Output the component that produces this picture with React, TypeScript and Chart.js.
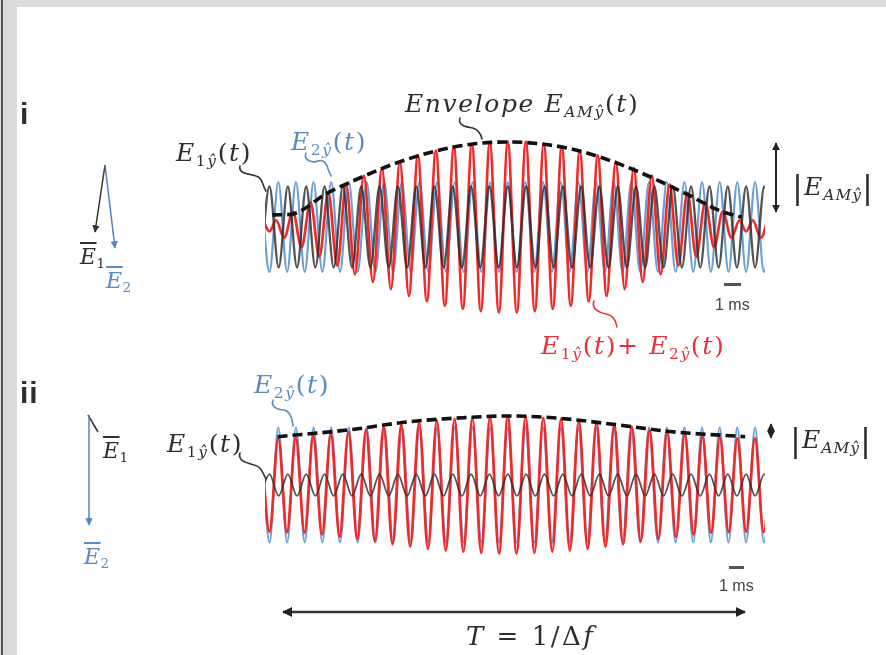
import React, { useEffect, useRef } from "react";
import { Chart, registerables } from "chart.js";

Chart.register(...registerables);

// ---------- DATA (time in ms, field in arbitrary units) ----------
// extremum times of E1 (slower carrier) and E2 (faster carrier)
const T_E1 = [-0.25, 0.25, 0.76, 1.27, 1.78, 2.29, 2.80, 3.31, 3.82, 4.33, 4.84, 5.35, 5.86, 6.37, 6.88, 7.39, 7.90, 8.41, 8.92, 9.42, 9.93, 10.44, 10.95, 11.46, 11.97, 12.48, 12.99, 13.50, 14.01, 14.52, 15.03, 15.54, 16.05, 16.56, 17.07, 17.58, 18.08, 18.59, 19.10, 19.61, 20.12, 20.63, 21.14, 21.65, 22.16, 22.67, 23.18, 23.69, 24.20, 24.71, 25.22, 25.73, 26.24, 26.75, 27.25, 27.76, 28.27];
const T_E2 = [-0.25, 0.25, 0.74, 1.23, 1.72, 2.21, 2.70, 3.19, 3.68, 4.17, 4.66, 5.15, 5.65, 6.14, 6.63, 7.12, 7.61, 8.10, 8.59, 9.08, 9.57, 10.06, 10.55, 11.05, 11.54, 12.03, 12.52, 13.01, 13.50, 13.99, 14.48, 14.97, 15.46, 15.95, 16.45, 16.94, 17.43, 17.92, 18.41, 18.90, 19.39, 19.88, 20.37, 20.86, 21.35, 21.85, 22.34, 22.83, 23.32, 23.81, 24.30, 24.79, 25.28, 25.77, 26.26, 26.75, 27.25, 27.74, 28.23];

// panel i : E1 (black), E2 (blue), sum (red), envelope (dashed)
const V_E1_I = [-0.9, 0.9, -0.9, 0.9, -0.9, 0.9, -0.9, 0.9, -0.9, 0.9, -0.9, 0.9, -0.9, 0.9, -0.9, 0.9, -0.9, 0.9, -0.9, 0.9, -0.9, 0.9, -0.9, 0.9, -0.9, 0.9, -0.9, 0.9, -0.9, 0.9, -0.9, 0.9, -0.9, 0.9, -0.9, 0.9, -0.9, 0.9, -0.9, 0.9, -0.9, 0.9, -0.9, 0.9, -0.9, 0.9, -0.9, 0.9, -0.9, 0.9, -0.9, 0.9, -0.9, 0.9, -0.9, 0.9, -0.9];
const V_E2_I = [1, -1, 1, -1, 1, -1, 1, -1, 1, -1, 1, -1, 1, -1, 1, -1, 1, -1, 1, -1, 1, -1, 1, -1, 1, -1, 1, -1, 1, -1, 1, -1, 1, -1, 1, -1, 1, -1, 1, -1, 1, -1, 1, -1, 1, -1, 1, -1, 1, -1, 1, -1, 1, -1, 1, -1, 1, -1, 1];
const T_SUM_I = [-0.12, 0.25, 0.62, 1.07, 1.55, 2.03, 2.53, 3.02, 3.52, 4.02, 4.51, 5.0, 5.5, 6.0, 6.5, 7.0, 7.5, 8.0, 8.5, 9.0, 9.5, 10.0, 10.5, 11.0, 11.5, 12.0, 12.5, 13.0, 13.5, 14.0, 14.5, 15.0, 15.5, 16.0, 16.5, 17.0, 17.5, 18.0, 18.5, 19.0, 19.5, 20.0, 20.5, 21.0, 21.5, 22.0, 22.49, 22.98, 23.48, 23.98, 24.47, 24.97, 25.45, 25.93, 26.38, 26.75, 27.12, 27.57, 28.05];
const V_SUM_I = [0.15, -0.10, 0.15, -0.24, 0.34, -0.45, 0.55, -0.66, 0.76, -0.86, 0.95, -1.05, 1.14, -1.22, 1.31, -1.38, 1.46, -1.53, 1.59, -1.65, 1.70, -1.75, 1.79, -1.82, 1.85, -1.87, 1.89, -1.90, 1.90, -1.90, 1.89, -1.87, 1.85, -1.82, 1.79, -1.75, 1.70, -1.65, 1.59, -1.53, 1.46, -1.38, 1.31, -1.22, 1.14, -1.05, 0.95, -0.86, 0.76, -0.66, 0.55, -0.45, 0.34, -0.24, 0.15, -0.10, 0.15, -0.24, 0.34];
const T_ENV_I = [0.4, 1.4, 3.5, 5.5, 7.5, 9.5, 11.5, 13.5, 15.5, 17.5, 19.5, 21.5, 23.5, 25.3, 26.5];
const V_ENV_I = [0.27, 0.28, 0.76, 1.13, 1.45, 1.69, 1.84, 1.89, 1.84, 1.69, 1.43, 1.10, 0.72, 0.36, 0.22];

// panel ii
const V_E1_II = [-0.19, 0.19, -0.19, 0.19, -0.19, 0.19, -0.19, 0.19, -0.19, 0.19, -0.19, 0.19, -0.19, 0.19, -0.19, 0.19, -0.19, 0.19, -0.19, 0.19, -0.19, 0.19, -0.19, 0.19, -0.19, 0.19, -0.19, 0.19, -0.19, 0.19, -0.19, 0.19, -0.19, 0.19, -0.19, 0.19, -0.19, 0.19, -0.19, 0.19, -0.19, 0.19, -0.19, 0.19, -0.19, 0.19, -0.19, 0.19, -0.19, 0.19, -0.19, 0.19, -0.19, 0.19, -0.19, 0.19, -0.19];
const V_E2_II = [1, -1, 1, -1, 1, -1, 1, -1, 1, -1, 1, -1, 1, -1, 1, -1, 1, -1, 1, -1, 1, -1, 1, -1, 1, -1, 1, -1, 1, -1, 1, -1, 1, -1, 1, -1, 1, -1, 1, -1, 1, -1, 1, -1, 1, -1, 1, -1, 1, -1, 1, -1, 1, -1, 1, -1, 1, -1, 1];
const T_SUM_II = [-0.24, 0.25, 0.74, 1.22, 1.71, 2.20, 2.68, 3.17, 3.66, 4.15, 4.64, 5.13, 5.62, 6.11, 6.60, 7.09, 7.58, 8.07, 8.57, 9.06, 9.55, 10.05, 10.54, 11.03, 11.53, 12.02, 12.51, 13.01, 13.50, 13.99, 14.49, 14.98, 15.47, 15.97, 16.46, 16.95, 17.45, 17.94, 18.43, 18.93, 19.42, 19.91, 20.40, 20.89, 21.38, 21.87, 22.36, 22.85, 23.34, 23.83, 24.32, 24.80, 25.29, 25.78, 26.26, 26.75, 27.24, 27.72, 28.21];
const V_SUM_II = [0.81, -0.81, 0.81, -0.82, 0.82, -0.83, 0.85, -0.86, 0.88, -0.90, 0.92, -0.94, 0.96, -0.98, 1.01, -1.03, 1.05, -1.07, 1.09, -1.11, 1.12, -1.14, 1.15, -1.16, 1.17, -1.18, 1.19, -1.19, 1.19, -1.19, 1.19, -1.18, 1.17, -1.16, 1.15, -1.14, 1.12, -1.11, 1.09, -1.07, 1.05, -1.03, 1.01, -0.98, 0.96, -0.94, 0.92, -0.90, 0.88, -0.86, 0.85, -0.83, 0.82, -0.82, 0.81, -0.81, 0.81, -0.82, 0.82];
const T_ENV_II = [0.7, 4.7, 8.0, 11.0, 13.5, 16.0, 19.5, 22.5, 26.7];
const V_ENV_II = [0.84, 0.96, 1.10, 1.17, 1.20, 1.17, 1.05, 0.93, 0.84];

const T_MAX = 27.8;

// ---------- styles ----------
const C_BLACK = "rgba(45,45,45,0.82)";
const C_BLUE = "#6c9fd2";
const C_RED = "#f02a2a";
const C_TXT = "#2e2e2e";
const C_TXT_BLUE = "#5b8cbf";
const C_TXT_RED = "#e8303a";
const MATH = '"DejaVu Serif", "Liberation Serif", serif';
const SANS = '"Liberation Sans", Arial, sans-serif';

const pts = (t: number[], v: number[]) => t.map((x, i) => ({ x, y: v[i] }));

type PanelProps = {
  left: number; top: number; width: number; height: number; yLim: number; e1W: number;
  e1: number[]; e2: number[]; tSum: number[]; vSum: number[]; tEnv: number[]; vEnv: number[];
};

function Panel(p: PanelProps) {
  const ref = useRef<HTMLCanvasElement | null>(null);
  useEffect(() => {
    if (!ref.current) return;
    const common = { pointRadius: 0, cubicInterpolationMode: "monotone" as const, fill: false };
    const chart = new Chart(ref.current, {
      type: "line",
      data: {
        datasets: [
          { ...common, label: "envelope", data: pts(p.tEnv, p.vEnv), borderColor: "#111", borderWidth: 3.6, borderDash: [10, 5], order: 0 },
          { ...common, label: "E1", data: pts(T_E1, p.e1), borderColor: C_BLACK, borderWidth: p.e1W, order: 1 },
          { ...common, label: "E1+E2", data: pts(p.tSum, p.vSum), borderColor: C_RED, borderWidth: 2.7, order: 2 },
          { ...common, label: "E2", data: pts(T_E2, p.e2), borderColor: C_BLUE, borderWidth: 2.2, order: 3 },
        ],
      },
      options: {
        animation: false,
        responsive: false,
        devicePixelRatio: 1,
        events: [],
        layout: { padding: 0 },
        plugins: { legend: { display: false }, tooltip: { enabled: false }, title: { display: false } },
        scales: {
          x: { type: "linear", min: 0, max: T_MAX, display: false },
          y: { type: "linear", min: -p.yLim, max: p.yLim, display: false },
        },
      },
    });
    return () => chart.destroy();
  }, []);
  return (
    <canvas ref={ref} width={p.width} height={p.height}
      style={{ position: "absolute", left: p.left, top: p.top, width: p.width, height: p.height }} />
  );
}

const sub: React.CSSProperties = { fontSize: "0.62em", verticalAlign: "-0.32em", lineHeight: 0 };

function Lbl(props: { left: number; top: number; size?: number; color?: string; font?: string; ls?: number; bold?: boolean; children: React.ReactNode }) {
  return (
    <div style={{
      position: "absolute", left: props.left, top: props.top, fontSize: props.size ?? 25,
      color: props.color ?? C_TXT, fontFamily: props.font ?? MATH, lineHeight: 1, whiteSpace: "nowrap",
      letterSpacing: props.ls ?? 1.6, fontWeight: props.bold ? 700 : 400,
    }}>{props.children}</div>
  );
}

const Eyt = (n: string) => (
  <>
    <i>E</i><span style={sub}>{n}<i>ŷ</i></span>(<i>t</i>)
  </>
);
const Eam = (
  <>
    <i>E</i><span style={sub}><i>AMŷ</i></span>
  </>
);
const Ebar = (n: string) => (
  <>
    <i style={{ textDecoration: "overline" }}>E</i><span style={sub}>{n}</span>
  </>
);
const bar = <span style={{ fontSize: "1.3em", verticalAlign: "-0.1em" }}>|</span>;

export default function App() {
  return (
    <div style={{ position: "absolute", left: 0, top: 0, width: 886, height: 655, background: "#fff", overflow: "hidden" }}>
      {/* frame */}
      <div style={{ position: "absolute", left: 0, top: 0, width: 886, height: 7, background: "#dcdcdc" }} />
      <div style={{ position: "absolute", left: 0, top: 0, width: 17, height: 655, background: "#dcdcdc" }} />
      <div style={{ position: "absolute", left: 1, top: 0, width: 1.5, height: 655, background: "#555" }} />

      <Panel left={265} top={119} width={500} height={216} yLim={2.4} e1W={2.3}
        e1={V_E1_I} e2={V_E2_I} tSum={T_SUM_I} vSum={V_SUM_I} tEnv={T_ENV_I} vEnv={V_ENV_I} />
      <Panel left={265} top={393} width={500} height={184} yLim={1.6} e1W={1.8}
        e1={V_E1_II} e2={V_E2_II} tSum={T_SUM_II} vSum={V_SUM_II} tEnv={T_ENV_II} vEnv={V_ENV_II} />

      <svg width={886} height={655} style={{ position: "absolute", left: 0, top: 0, pointerEvents: "none" }}>
        <defs>
          <marker id="ak" viewBox="0 0 10 10" refX="9" refY="5" markerWidth="4" markerHeight="4" orient="auto-start-reverse">
            <path d="M0,0 L10,5 L0,10 z" fill="#222" />
          </marker>
          <marker id="ab" viewBox="0 0 10 10" refX="9" refY="5" markerWidth="5" markerHeight="5" orient="auto-start-reverse">
            <path d="M0,0 L10,5 L0,10 z" fill="#4f86bf" />
          </marker>
          <marker id="ak2" viewBox="0 0 10 10" refX="9" refY="5" markerWidth="5" markerHeight="5" orient="auto-start-reverse">
            <path d="M0,0 L10,5 L0,10 z" fill="#333" />
          </marker>
        </defs>
        {/* vectors panel i */}
        <line x1={105} y1={165} x2={95} y2={232} stroke="#333" strokeWidth={1.5} markerEnd="url(#ak2)" />
        <line x1={105} y1={165} x2={115} y2={248} stroke="#4f86bf" strokeWidth={1.5} markerEnd="url(#ab)" />
        {/* vectors panel ii */}
        <line x1={88} y1={415} x2={98} y2={432} stroke="#333" strokeWidth={1.5} />
        <line x1={89} y1={415} x2={89} y2={525} stroke="#4f86bf" strokeWidth={1.5} markerEnd="url(#ab)" />
        {/* amplitude arrows */}
        <line x1={776} y1={143} x2={776} y2={212} stroke="#222" strokeWidth={2} markerStart="url(#ak)" markerEnd="url(#ak)" />
        <line x1={771} y1={424} x2={771} y2={438} stroke="#222" strokeWidth={2} markerStart="url(#ak)" markerEnd="url(#ak)" />
        {/* scale bars */}
        <rect x={724} y={283} width={17} height={3} fill="#555" />
        <rect x={729} y={566} width={15} height={3} fill="#555" />
        {/* T arrow */}
        <line x1={283} y1={612} x2={745} y2={612} stroke="#333" strokeWidth={2.5} markerStart="url(#ak)" markerEnd="url(#ak)" />
        {/* squiggle leaders */}
        <g fill="none" strokeWidth={1.6} strokeLinecap="round">
          <path d="M 240 166 C 238 174, 250 174, 256 176 C 263 178, 262 185, 266 191" stroke="#333" />
          <path d="M 306 153 C 303 161, 313 163, 318 161 C 324 159, 327 164, 328 169 L 331 176" stroke={C_TXT_BLUE} />
          <path d="M 460 118 C 457 126, 468 127, 473 128 C 479 130, 481 134, 482 139" stroke="#333" />
          <path d="M 594 301 C 591 309, 600 313, 606 314 C 613 315, 616 320, 617 327" stroke={C_TXT_RED} />
          <path d="M 273 400 C 270 408, 280 410, 284 410 C 290 411, 292 417, 293 426" stroke={C_TXT_BLUE} />
          <path d="M 240 453 C 237 461, 248 463, 254 465 C 262 467, 262 472, 266 479" stroke="#333" />
        </g>
      </svg>

      {/* panel labels */}
      <Lbl left={20} top={99} size={30} font={SANS} ls={0} bold>i</Lbl>
      <Lbl left={20} top={378} size={30} font={SANS} ls={1} bold>ii</Lbl>

      {/* panel i texts */}
      <Lbl left={405} top={91}><i>Envelope</i> {Eam}(<i>t</i>)</Lbl>
      <Lbl left={176} top={140}>{Eyt("1")}</Lbl>
      <Lbl left={291} top={129} color={C_TXT_BLUE}>{Eyt("2")}</Lbl>
      <Lbl left={541} top={333} color={C_TXT_RED}>{Eyt("1")}+ {Eyt("2")}</Lbl>
      <Lbl left={792} top={171} ls={1}>{bar}{Eam}{bar}</Lbl>
      <Lbl left={80} top={246} size={22} ls={0.5}>{Ebar("1")}</Lbl>
      <Lbl left={106} top={270} size={22} ls={0.5} color={C_TXT_BLUE}>{Ebar("2")}</Lbl>
      <Lbl left={715} top={297} size={16} font={SANS} ls={0} color="#444">1 ms</Lbl>

      {/* panel ii texts */}
      <Lbl left={254} top={372} color={C_TXT_BLUE}>{Eyt("2")}</Lbl>
      <Lbl left={167} top={431}>{Eyt("1")}</Lbl>
      <Lbl left={790} top={424} ls={1}>{bar}{Eam}{bar}</Lbl>
      <Lbl left={103} top={440} size={22} ls={0.5}>{Ebar("1")}</Lbl>
      <Lbl left={84} top={546} size={22} ls={0.5} color={C_TXT_BLUE}>{Ebar("2")}</Lbl>
      <Lbl left={719} top={578} size={16} font={SANS} ls={0} color="#444">1 ms</Lbl>

      {/* beat period */}
      <Lbl left={466} top={623} size={26} ls={2.5}><i>T</i> = 1/Δ<i>f</i></Lbl>
    </div>
  );
}
